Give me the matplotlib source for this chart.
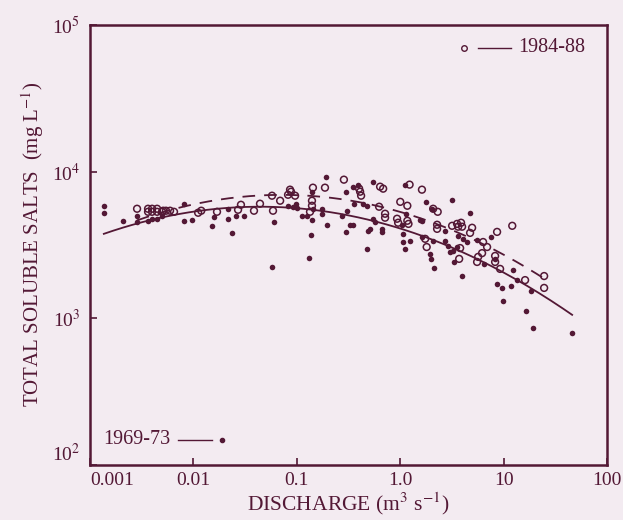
import numpy as np
import matplotlib
matplotlib.use("Agg")
import matplotlib.pyplot as plt

plt.rcParams['font.family'] = ['Liberation Serif', 'DejaVu Serif']
plt.rcParams['mathtext.fontset'] = 'stix'

# 1969-73 samples: discharge (m3/s) and total soluble salts (mg/L)
q_6973 = [0.00136, 0.00136, 0.00208, 0.00285, 0.00285, 0.00364, 0.00398, 0.0044, 0.00497,
          0.0081, 0.0081, 0.0097, 0.0158, 0.015, 0.0216, 0.0216, 0.0258, 0.0308, 0.0236,
          0.060, 0.0575, 0.0822, 0.0918, 0.098, 0.100, 0.112, 0.126, 0.140, 0.143, 0.140,
          0.138, 0.131, 0.191, 0.175, 0.175, 0.196, 0.299, 0.273, 0.306, 0.299, 0.327,
          0.349, 0.349, 0.391, 0.357, 0.437, 0.478, 0.478, 0.489, 0.512, 0.546, 0.546,
          0.572, 0.668, 0.668, 1.10, 1.14, 1.05, 1.07, 1.07, 1.23, 1.12, 1.78, 1.55, 1.62,
          1.62, 1.94, 1.99, 2.12, 2.08, 2.03, 3.17, 2.71, 2.71, 2.90, 3.03, 3.24, 3.31,
          4.73, 7.55, 3.63, 4.06, 4.43, 3.54, 5.53, 6.47, 8.26, 12.4, 13.5, 18.4, 3.96,
          8.63, 9.66, 11.8, 9.88, 16.5, 19.3, 45.9]
tss_6973 = [5850, 5240, 4620, 5000, 4550, 4620, 4770, 4770, 5000,
            6040, 4620, 4690, 4920, 4270, 5580, 4770, 5000, 5000, 3820,
            4550, 2230, 5850, 5760, 6040, 5660, 5000, 5000, 7290, 5580, 4690,
            3700, 2580, 9250, 5580, 5160, 4340, 7290, 5000, 5410, 3880, 4340,
            4340, 7890, 8150, 6040, 6040, 5850, 2970, 3950, 4070, 8550, 4770,
            4550, 4070, 3880, 8150, 5160, 4340, 3760, 3310, 3370, 2970, 6220, 4690, 4620,
            3580, 2740, 2540, 2200, 3370, 5580, 6430, 3950, 3370, 3110, 2840, 2880, 2420,
            5240, 3580, 3640, 3480, 3310, 3060, 3420, 2350, 2540, 2140, 1820, 1530, 1940,
            1710, 1610, 1660, 1310, 1120, 855, 789]

# 1984-88 samples
q_8488 = [0.00285, 0.00364, 0.00364, 0.00398, 0.00398, 0.00445, 0.00445, 0.00497, 0.0051,
          0.00543, 0.00594, 0.00649, 0.0111, 0.0119, 0.0169, 0.027, 0.0288, 0.0385, 0.044,
          0.0575, 0.0588, 0.0689, 0.0822, 0.0859, 0.0878, 0.0961, 0.143, 0.140, 0.140,
          0.134, 0.187, 0.285, 0.400, 0.409, 0.418, 0.638, 0.683, 0.624, 0.713, 0.713,
          1.23, 1.00, 1.17, 0.931, 0.953, 1.17, 1.20, 1.62, 1.74, 1.80, 2.08, 2.30, 2.27,
          2.27, 3.17, 3.54, 3.63, 3.87, 3.96, 4.73, 4.95, 12.1, 8.63, 3.79, 3.71, 6.32,
          6.91, 6.18, 5.66, 5.53, 8.26, 8.26, 9.23, 16.1, 24.6, 24.6]
tss_8488 = [5580, 5580, 5320, 5580, 5320, 5580, 5320, 5320, 5410,
            5410, 5410, 5320, 5240, 5410, 5320, 5490, 5940, 5410, 6040,
            6850, 5410, 6330, 6950, 7530, 7290, 6850, 7770, 6330, 5850,
            5320, 7770, 8810, 7650, 7290, 6850, 7890, 7650, 5760, 5160, 4850,
            8150, 6220, 5850, 4770, 4480, 4620, 4400, 7530, 3480, 3060, 5580, 5320, 4340,
            4070, 4270, 4400, 4210, 4480, 4210, 3820, 4140, 4270, 3880, 3010, 2540, 3310,
            3060, 2780, 2620, 2420, 2660, 2420, 2170, 1820, 1940, 1610]

x_ticks = [0.001, 0.01, 0.1, 1.0, 10, 100]
x_ticklabels = ['0.001', '0.01', '0.1', '1.0', '10', '100']
y_ticks = [1e2, 1e3, 1e4, 1e5]
y_ticklabels = ['10$^2$', '10$^3$', '10$^4$', '10$^5$']

ink = '#531835'
paper = '#f3ebf1'


def quad_fit(q, c):
    # second-order fit in log-log space, drawn over the sampled range
    lq, lc = np.log10(q), np.log10(c)
    coef = np.polyfit(lq, lc, 2)
    xs = np.linspace(lq.min(), lq.max(), 200)
    return 10 ** xs, 10 ** np.polyval(coef, xs)


fig = plt.figure(figsize=(6.23, 5.2), dpi=100, facecolor=paper)
ax = fig.add_axes([0.1445, 0.106, 0.83, 0.846], facecolor=paper)

ax.scatter(q_6973, tss_6973, s=16, color=ink, linewidths=0, zorder=3)
ax.scatter(q_8488, tss_8488, s=24, facecolors='none', edgecolors=ink, linewidths=1.1, zorder=3)

fx, fy = quad_fit(q_6973, tss_6973)
ax.plot(fx, fy, color=ink, lw=1.3, zorder=2)
fx, fy = quad_fit(q_8488, tss_8488)
ax.plot(fx, fy, color=ink, lw=1.3, ls=(0, (7, 5)), zorder=2)

ax.set_xscale('log')
ax.set_yscale('log')
ax.set_xlim(0.001, 100)
ax.set_ylim(100, 1e5)
ax.set_xticks(x_ticks)
ax.set_xticklabels(x_ticklabels)
ax.set_yticks(y_ticks)
ax.set_yticklabels(y_ticklabels)
ax.minorticks_off()
ax.tick_params(direction='in', length=5, width=1.2, color=ink, labelcolor=ink,
               labelsize=14)
ax.tick_params(axis='x', pad=5)
ax.tick_params(axis='y', pad=7)
# keep the corner labels apart
ax.get_xticklabels()[0].set_horizontalalignment('left')
ax.get_yticklabels()[0].set_verticalalignment('bottom')
for sp in ax.spines.values():
    sp.set_color(ink)
    sp.set_linewidth(1.8)

ax.set_xlabel('DISCHARGE (m$^3$ s$^{-1}$)', fontsize=15.5, color=ink, labelpad=1)
ax.set_ylabel('TOTAL SOLUBLE SALTS  (mg L$^{-1}$)', fontsize=15, color=ink, labelpad=4)

# key, written inside the frame
ax.plot([0.723], [0.948], 'o', ms=4, mfc='none', mec=ink, mew=1, transform=ax.transAxes)
ax.plot([0.750, 0.814], [0.948, 0.948], color=ink, lw=1, transform=ax.transAxes)
ax.text(0.828, 0.948, '1984-88', transform=ax.transAxes, fontsize=14.5, color=ink, va='center')
ax.text(0.025, 0.057, '1969-73', transform=ax.transAxes, fontsize=14.5, color=ink, va='center')
ax.plot([0.170, 0.236], [0.057, 0.057], color=ink, lw=1, transform=ax.transAxes)
ax.plot([0.255], [0.057], 'o', ms=3, color=ink, transform=ax.transAxes)

fig.savefig('out.png', dpi=100, facecolor=paper)
